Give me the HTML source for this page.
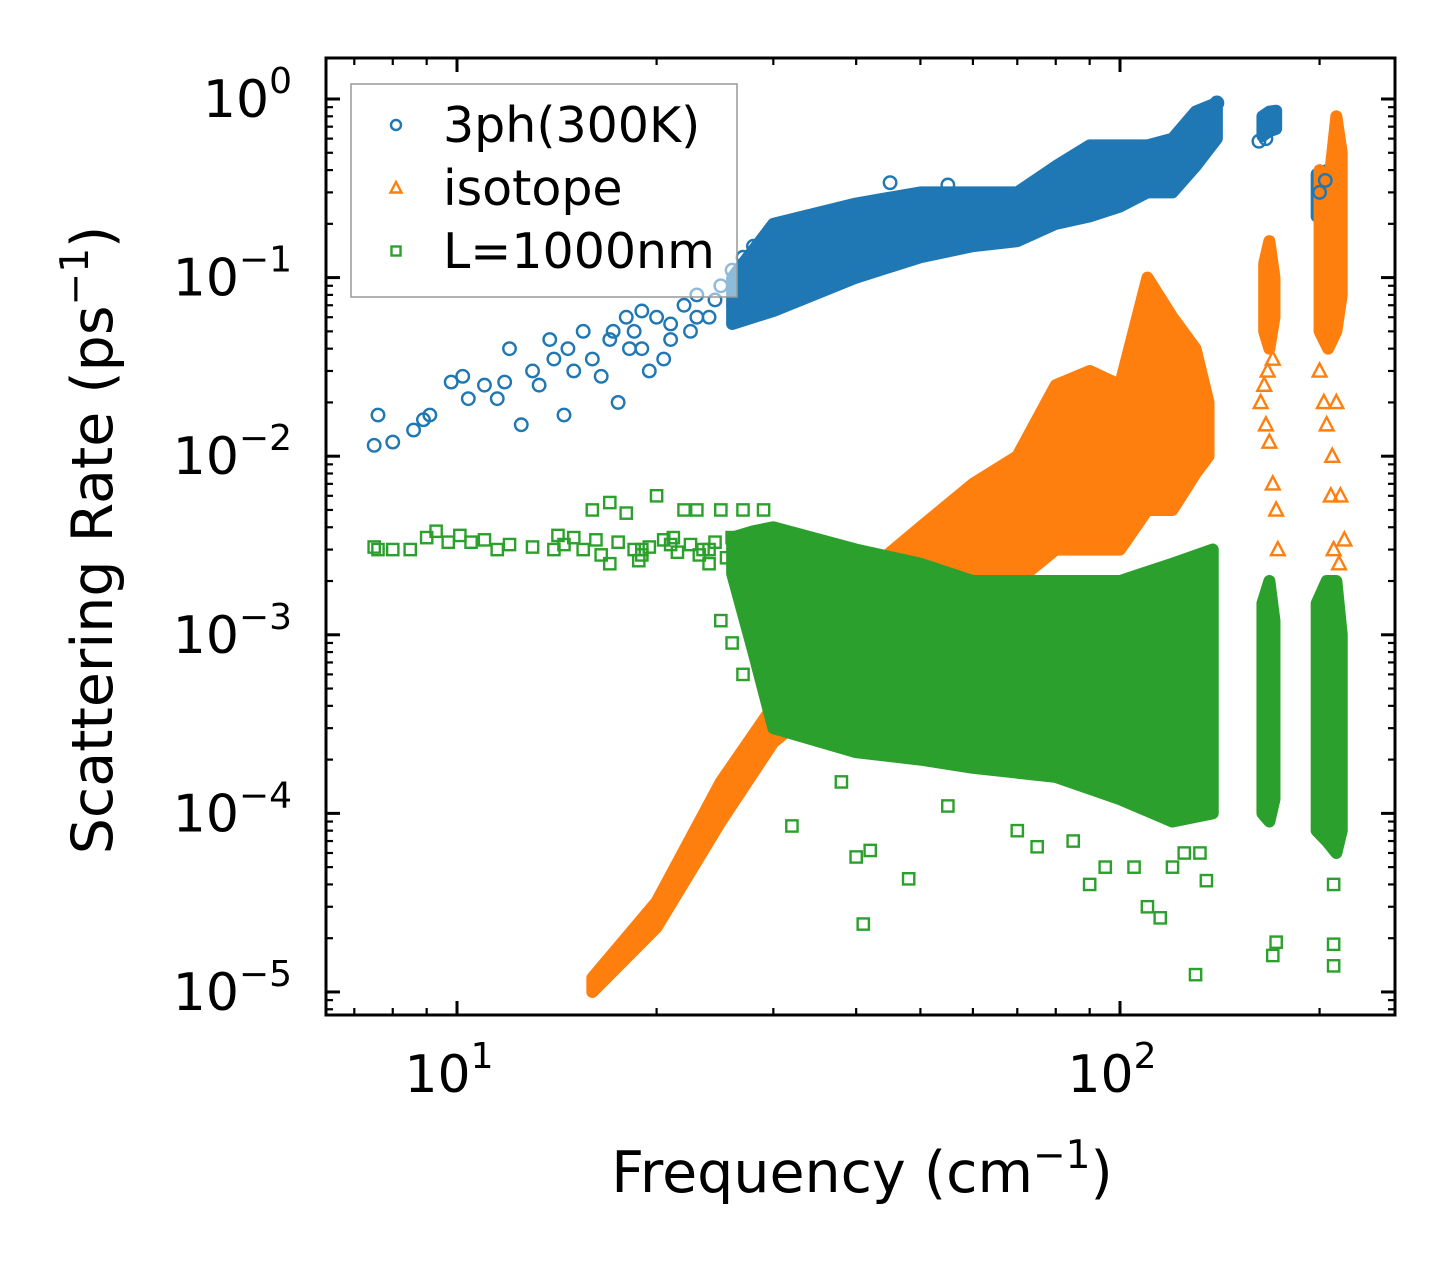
<!DOCTYPE html>
<html><head><meta charset="utf-8"><style>
html,body{margin:0;padding:0;background:#fff;}
svg{display:block;font-family:"DejaVu Sans","Liberation Sans",sans-serif;}
</style></head><body>
<svg id="chart" width="1455" height="1265" viewBox="0 0 1455 1265" xmlns="http://www.w3.org/2000/svg">
<g id="bands"></g>
<g id="marks"></g>
<g id="axes"></g>
</svg>
<script>
// ---- data ----
const blueBandX  = [26, 30, 40, 50, 60, 70, 80, 90, 100, 110, 120, 130, 140];
const blueBandLo = [0.055, 0.065, 0.1, 0.13, 0.15, 0.16, 0.2, 0.22, 0.25, 0.3, 0.3, 0.42, 0.6];
const blueBandHi = [0.1, 0.2, 0.26, 0.3, 0.3, 0.3, 0.42, 0.55, 0.55, 0.55, 0.6, 0.85, 0.95];
const blueClusterX  = [164, 168, 172];
const blueClusterLo = [0.62, 0.66, 0.68];
const blueClusterHi = [0.8, 0.85, 0.86];
const blueCluster2X  = [198, 205, 212];
const blueCluster2Lo = [0.22, 0.25, 0.25];
const blueCluster2Hi = [0.38, 0.4, 0.3];

const orangeBandX  = [16, 20, 25, 30, 35, 40, 50, 60, 70, 80, 90, 100, 110, 120, 130, 136];
const orangeBandLo = [1e-5, 2.3e-5, 9e-5, 2.5e-4, 4e-4, 6e-4, 1e-3, 1.5e-3, 2e-3, 3e-3, 3e-3, 3e-3, 5e-3, 5e-3, 8e-3, 1e-2];
const orangeBandHi = [1.2e-5, 3.2e-5, 1.5e-4, 4e-4, 1e-3, 2e-3, 4e-3, 7e-3, 1e-2, 2.5e-2, 3e-2, 2.5e-2, 1e-1, 6e-2, 4e-2, 2e-2];
const orangeCl1X  = [165, 168, 171];
const orangeCl1Lo = [0.05, 0.04, 0.06];
const orangeCl1Hi = [0.12, 0.16, 0.1];
const orangeCl2X  = [200, 206, 212, 216];
const orangeCl2Lo = [0.05, 0.04, 0.05, 0.08];
const orangeCl2Hi = [0.4, 0.3, 0.8, 0.5];

const greenBandX  = [26, 28, 30, 40, 50, 60, 80, 100, 120, 138];
const greenBandLo = [2.2e-3, 8e-4, 3e-4, 2.2e-4, 2e-4, 1.8e-4, 1.6e-4, 1.2e-4, 9e-5, 1e-4];
const greenBandHi = [3.5e-3, 3.8e-3, 4e-3, 3e-3, 2.5e-3, 2e-3, 2e-3, 2e-3, 2.5e-3, 3e-3];
const greenCl1X  = [164, 168, 171];
const greenCl1Lo = [1e-4, 9e-5, 1.2e-4];
const greenCl1Hi = [1.5e-3, 2e-3, 1.2e-3];
const greenCl2X  = [198, 205, 212, 216];
const greenCl2Lo = [8e-5, 7e-5, 6e-5, 8e-5];
const greenCl2Hi = [1.5e-3, 2e-3, 2e-3, 1e-3];

const blueX = [7.5,7.6,8,8.6,8.9,9.1,9.8,10.2,10.4,11,11.5,11.8,12,12.5,13,13.3,13.8,14,14.5,14.7,15,15.5,16,16.5,17,17.5,18,18.5,19,19.5,20,21,22,22.5,23,24,25,26,27,28,45,55,140,162,166,200,204,19,21,23,24.5,17.2,18.2,20.5];
const blueY = [0.0115,0.017,0.012,0.014,0.016,0.017,0.026,0.028,0.021,0.025,0.021,0.026,0.04,0.015,0.03,0.025,0.045,0.035,0.017,0.04,0.03,0.05,0.035,0.028,0.045,0.02,0.06,0.05,0.04,0.03,0.06,0.055,0.07,0.05,0.08,0.06,0.09,0.11,0.13,0.15,0.34,0.33,0.95,0.58,0.6,0.3,0.35,0.065,0.045,0.06,0.075,0.05,0.04,0.035];
const orangeX = [165,166,168,170,170,172,173,200,205,208,210,212,215,218,214,163,167,203,209];
const orangeY = [0.025,0.015,0.012,0.007,0.035,0.005,0.003,0.03,0.015,0.006,0.003,0.02,0.006,0.0034,0.0025,0.02,0.03,0.02,0.01];
const greenX = [7.5,7.6,8,8.5,9,9.3,9.7,10.1,10.5,11,11.5,12,13,14,15,16,17,18,19,20,21,22,23,24,25,26,27,29,17,19,24,25,26,27,30,32,40,42,41,48,90,95,110,115,130,170,172,210,210,210,165,135,38,55,70,75,85,105,120,125,132,14.5,15.5,16.5,17.5,18.5,19.5,20.5,21.5,22.5,23.5,24.5,25.5,14.2,16.2,18.8,21.2,23.2];
const greenY = [3.1e-3,3e-3,3e-3,3e-3,3.5e-3,3.8e-3,3.3e-3,3.6e-3,3.3e-3,3.4e-3,3e-3,3.2e-3,3.1e-3,3e-3,3.5e-3,5e-3,5.5e-3,4.8e-3,3e-3,6e-3,3.2e-3,5e-3,5e-3,3e-3,5e-3,3.5e-3,5e-3,5e-3,2.5e-3,2.8e-3,2.5e-3,1.2e-3,9e-4,6e-4,1.5e-3,8.5e-5,5.7e-5,6.2e-5,2.4e-5,4.3e-5,4e-5,5e-5,3e-5,2.6e-5,1.25e-5,1.6e-5,1.9e-5,1.85e-5,1.4e-5,4e-5,1.5e-4,4.2e-5,1.5e-4,1.1e-4,8e-5,6.5e-5,7e-5,5e-5,5e-5,6e-5,6e-5,3.2e-3,3e-3,2.8e-3,3.3e-3,3e-3,3.1e-3,3.4e-3,2.9e-3,3.2e-3,3e-3,3.3e-3,2.7e-3,3.6e-3,3.4e-3,2.6e-3,3.5e-3,2.8e-3];

const xTickVals = [10, 100];
const xTickLabels = ["10", "10"];
const xTickExps = ["1", "2"];
const yTickVals = [1, 0.1, 0.01, 0.001, 1e-4, 1e-5];
const yTickExps = ["0", "\u22121", "\u22122", "\u22123", "\u22124", "\u22125"];

const L = 326, R = 1395, T = 58, B = 1015;
const xMinL = 0.8024, xMaxL = 2.4148, yMinL = -5.129, yMaxL = 0.2296;
const X = v => L + (Math.log10(v) - xMinL) / (xMaxL - xMinL) * (R - L);
const Y = v => B - (Math.log10(v) - yMinL) / (yMaxL - yMinL) * (B - T);
const NS = "http://www.w3.org/2000/svg";
function mk(tag, attrs, parent) {
  const e = document.createElementNS(NS, tag);
  for (const k in attrs) e.setAttribute(k, attrs[k]);
  parent.appendChild(e);
  return e;
}
const bands = document.getElementById('bands');
const marks = document.getElementById('marks');
const axes = document.getElementById('axes');
const C = {blue: '#1f77b4', orange: '#ff7f0e', green: '#2ca02c'};

function band(xs, lo, hi, color, name) {
  const pts = [];
  xs.forEach((x, i) => pts.push(X(x) + ',' + Y(hi[i])));
  for (let i = xs.length - 1; i >= 0; i--) pts.push(X(xs[i]) + ',' + Y(lo[i]));
  const p = mk('polygon', {points: pts.join(' '), fill: color, stroke: color, 'stroke-width': 12, 'stroke-linejoin': 'round'}, bands);
  
  
}
function marker(kind, cx, cy, color, parent, s) {
  s = s || 1.25;
  let e;
  if (kind === 'o') e = mk('circle', {cx: cx, cy: cy, r: 5 * s}, parent);
  else if (kind === '^') e = mk('polygon', {points: `${cx},${cy - 6 * s} ${cx - 5.5 * s},${cy + 4.5 * s} ${cx + 5.5 * s},${cy + 4.5 * s}`}, parent);
  else e = mk('rect', {x: cx - 4.5 * s, y: cy - 4.5 * s, width: 9 * s, height: 9 * s}, parent);
  e.setAttribute('fill', 'none');
  e.setAttribute('stroke', color);
  e.setAttribute('stroke-width', 2.4);
  return e;
}
function scatter(xs, ys, kind, color, name) {
  xs.forEach((x, i) => {
    const e = marker(kind, X(x), Y(ys[i]), color, marks);
    
    
  });
}
band(blueBandX, blueBandLo, blueBandHi, C.blue, 'phonon-3ph-cloud');
band(blueClusterX, blueClusterLo, blueClusterHi, C.blue, 'phonon-3ph-cluster');
band(blueCluster2X, blueCluster2Lo, blueCluster2Hi, C.blue, 'phonon-3ph-cluster');
scatter(blueX, blueY, 'o', C.blue, 'phonon-3ph-point');
band(orangeBandX, orangeBandLo, orangeBandHi, C.orange, 'isotope-cloud');
band(orangeCl1X, orangeCl1Lo, orangeCl1Hi, C.orange, 'isotope-cluster');
band(orangeCl2X, orangeCl2Lo, orangeCl2Hi, C.orange, 'isotope-cluster');
scatter(orangeX, orangeY, '^', C.orange, 'isotope-point');
band(greenBandX, greenBandLo, greenBandHi, C.green, 'boundary-cloud');
band(greenCl1X, greenCl1Lo, greenCl1Hi, C.green, 'boundary-cluster');
band(greenCl2X, greenCl2Lo, greenCl2Hi, C.green, 'boundary-cluster');
scatter(greenX, greenY, 's', C.green, 'boundary-point');

const frame = mk('rect', {x: L, y: T, width: R - L, height: B - T, fill: 'none', stroke: '#000', 'stroke-width': 3}, axes);



for (let d = 1; d <= 300; d *= 10) {
  for (let m = 1; m < 10; m++) {
    const v = d * m;
    if (v < Math.pow(10, xMinL) || v > Math.pow(10, xMaxL)) continue;
    const len = m === 1 ? 14 : 7, x = X(v);
    mk('line', {x1: x, y1: B, x2: x, y2: B - len, stroke: '#000', 'stroke-width': m === 1 ? 3 : 2.2}, axes);
    mk('line', {x1: x, y1: T, x2: x, y2: T + len, stroke: '#000', 'stroke-width': m === 1 ? 3 : 2.2}, axes);
  }
}
for (let e = -6; e <= 0; e++) {
  for (let m = 1; m < 10; m++) {
    const v = m * Math.pow(10, e);
    if (Math.log10(v) < yMinL || Math.log10(v) > yMaxL) continue;
    const len = m === 1 ? 14 : 7, y = Y(v);
    mk('line', {x1: L, y1: y, x2: L + len, y2: y, stroke: '#000', 'stroke-width': m === 1 ? 3 : 2.2}, axes);
    mk('line', {x1: R, y1: y, x2: R - len, y2: y, stroke: '#000', 'stroke-width': m === 1 ? 3 : 2.2}, axes);
  }
}
xTickVals.forEach((v, i) => {
  const t = mk('text', {x: X(v) - 8, y: 1092, 'text-anchor': 'middle', 'font-size': 52, fill: '#000'}, axes);
  
  
  t.textContent = xTickLabels[i];
  const s = mk('tspan', {dy: -24, 'font-size': 36}, t);
  s.textContent = xTickExps[i];
});
yTickVals.forEach((v, i) => {
  const t = mk('text', {x: 292, y: Y(v) + 18, 'text-anchor': 'end', 'font-size': 52, fill: '#000'}, axes);
  
  
  t.textContent = '10';
  const s = mk('tspan', {dy: -24, 'font-size': 36}, t);
  s.textContent = yTickExps[i];
});
const xl = mk('text', {x: 862, y: 1192, 'text-anchor': 'middle', 'font-size': 57, fill: '#000'}, axes);


xl.innerHTML = 'Frequency (cm<tspan dy="-24" font-size="39">\u22121</tspan><tspan dy="24">)</tspan>';
const yl = mk('text', {x: 0, y: 0, 'text-anchor': 'middle', 'font-size': 57, fill: '#000', transform: 'translate(112,540) rotate(-90)'}, axes);


yl.innerHTML = 'Scattering Rate (ps<tspan dy="-24" font-size="39">\u22121</tspan><tspan dy="24">)</tspan>';

const lg = mk('g', {}, axes);


mk('rect', {x: 351, y: 84, width: 386, height: 213, fill: 'rgba(255,255,255,0.5)', stroke: '#999', 'stroke-width': 1.5}, lg);
const legNames = ['3ph(300K)', 'isotope', 'L=1000nm'];
const legKinds = ['o', '^', 's'];
const legColors = [C.blue, C.orange, C.green];
legNames.forEach((n, i) => {
  const y = 125 + i * 63;
  const g = mk('g', {}, lg);
  
  
  marker(legKinds[i], 396, y, legColors[i], g, 1);
  const t = mk('text', {x: 443, y: y + 17, 'font-size': 49, fill: '#000'}, g);
  t.textContent = n;
});
</script>
</body></html>
